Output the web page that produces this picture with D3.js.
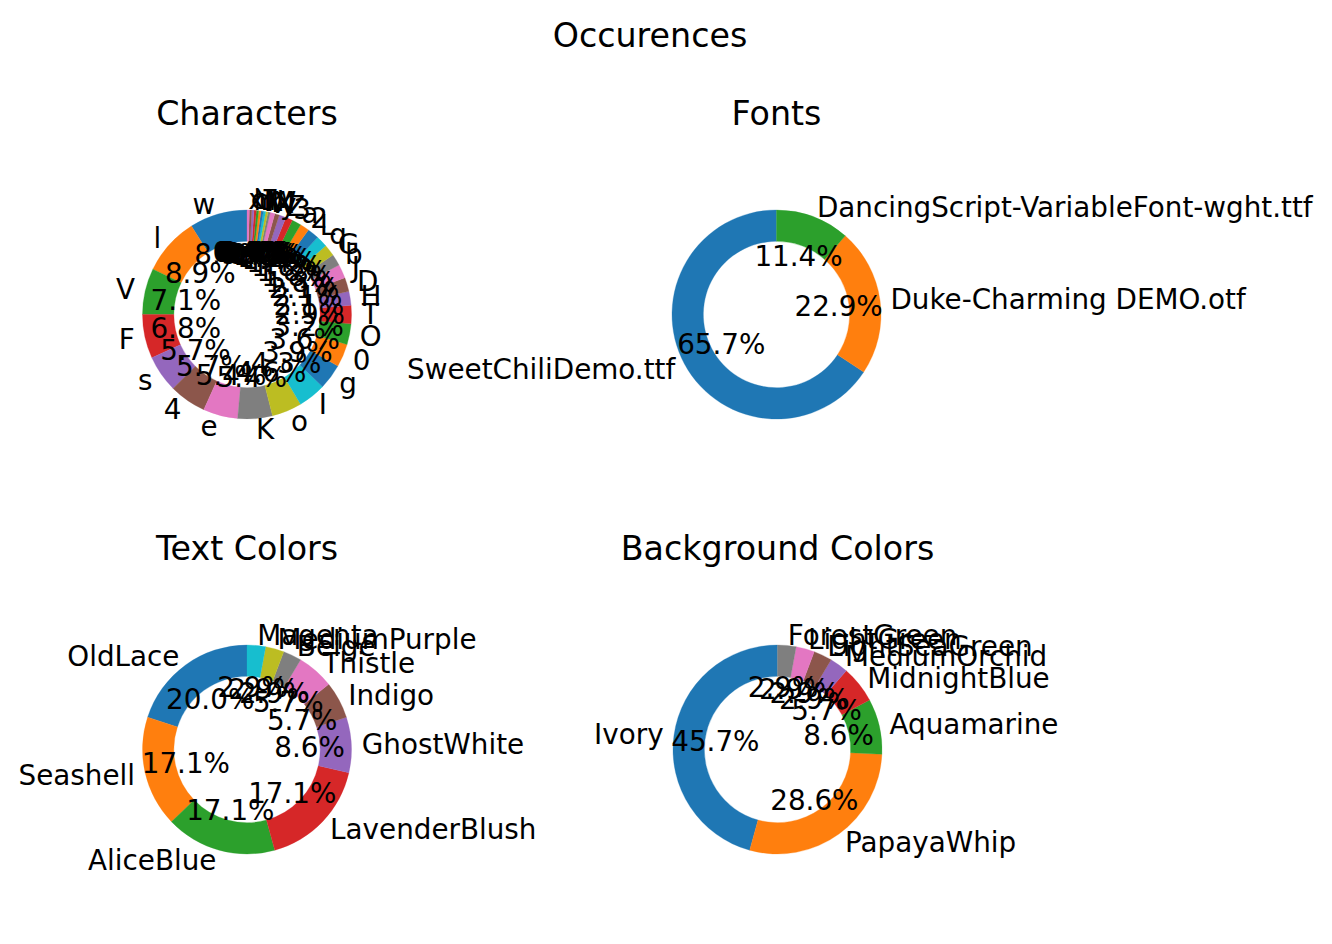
<!DOCTYPE html>
<html>
<head>
<meta charset="utf-8">
<script src="https://cdn.jsdelivr.net/npm/d3@7"></script>
<style>
	body { margin: 0; background: #fff; }
	svg text { font-family: "DejaVu Sans", sans-serif; fill: #000; }
</style>
</head>
<body>
<svg id="board" width="1332" height="944"></svg>
<script>
// counts per image set (35 images, 8 characters each)
var charLabels = ["w", "l", "V", "F", "s", "4", "e", "K", "o", "I", "g", "0", "O", "T", "H", "D", "J", "b", "G", "q", "L", "2", "a", "3", "Z", "y", "X", "M", "W", "k", "N", "7", "u", "Y", "h", "c", "x"];
var charCounts = [25, 25, 20, 19, 16, 16, 15, 15, 13, 12, 11, 10, 9, 8, 6, 6, 6, 5, 5, 5, 5, 4, 4, 3, 3, 2, 2, 1, 1, 1, 1, 1, 1, 1, 1, 1, 1];

var fontLabels = ["SweetChiliDemo.ttf", "Duke-Charming DEMO.otf", "DancingScript-VariableFont-wght.ttf"];
var fontCounts = [23, 8, 4];

var textColorLabels = ["OldLace", "Seashell", "AliceBlue", "LavenderBlush", "GhostWhite", "Indigo", "Thistle", "Beige", "MediumPurple", "Magenta"];
var textColorCounts = [7, 6, 6, 6, 3, 2, 2, 1, 1, 1];

var bgColorLabels = ["Ivory", "PapayaWhip", "Aquamarine", "MidnightBlue", "MediumOrchid", "LightSeaGreen", "LightGreen", "ForestGreen"];
var bgColorCounts = [16, 10, 3, 2, 1, 1, 1, 1];

var svg = d3.select("#board");
var radius = 104.5;
var pctFormat = d3.format(".1f");

svg.append("text")
	.attr("x", 650)
	.attr("y", 47)
	.attr("text-anchor", "middle")
	.style("font-size", "33.3px")
	.text("Occurences");

drawDonut("Characters", charLabels, charCounts, 247, 314.5);
drawDonut("Fonts", fontLabels, fontCounts, 776.5, 314.5);
drawDonut("Text Colors", textColorLabels, textColorCounts, 247, 749.5);
drawDonut("Background Colors", bgColorLabels, bgColorCounts, 777.5, 749.5);

function drawDonut(title, labels, counts, cx, cy) {
	var total = d3.sum(counts);
	var color = d3.scaleOrdinal().domain(d3.range(counts.length)).range(d3.schemeCategory10);
	// matplotlib style: start at 12 o'clock, go counter clockwise
	var pie = d3.pie().sort(null).startAngle(0).endAngle(-2 * Math.PI);
	var arcs = pie(counts);
	var arc = d3.arc().innerRadius(radius * 0.7).outerRadius(radius);

	var g = svg.append("g").attr("transform", "translate(" + cx + "," + cy + ")");

	svg.append("text")
		.attr("x", cx)
		.attr("y", cy - 189.5)
		.attr("text-anchor", "middle")
		.style("font-size", "33.3px")
		.text(title);

	g.selectAll("path")
		.data(arcs)
		.enter().append("path")
		.attr("d", arc)
		.attr("fill", function(d, i) { return color(i); })
		.attr("stroke", function(d, i) { return color(i); })
		.attr("stroke-width", 0.3);

	arcs.forEach(function(d, i) {
		var mid = (d.startAngle + d.endAngle) / 2;
		var lx = Math.sin(mid) * radius * 1.1;
		var ly = -Math.cos(mid) * radius * 1.1;
		g.append("text")
			.attr("x", lx)
			.attr("y", ly)
			.attr("dy", "0.355em")
			.attr("text-anchor", lx > 0 ? "start" : "end")
			.style("font-size", "27.8px")
			.text(labels[i]);

		g.append("text")
			.attr("x", Math.sin(mid) * radius * 0.6)
			.attr("y", -Math.cos(mid) * radius * 0.6)
			.attr("dy", "0.355em")
			.attr("text-anchor", "middle")
			.style("font-size", "27.8px")
			.text(pctFormat(counts[i] / total * 100) + "%");
	});
}
</script>
</body>
</html>
